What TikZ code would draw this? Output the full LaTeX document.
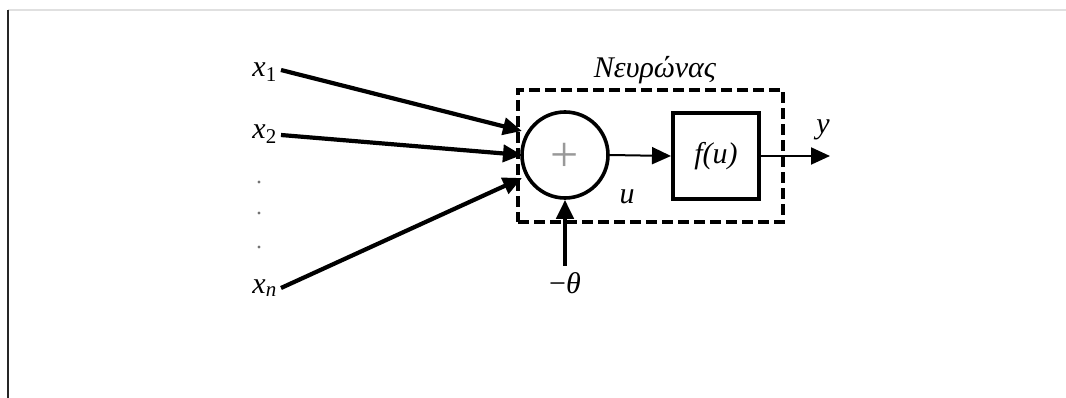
\documentclass[tikz,border=0pt]{standalone}
\usepackage{fontspec}
\setmainfont{Liberation Serif}
\usetikzlibrary{arrows.meta}
\begin{document}
\begin{tikzpicture}[x=1pt,y=-1pt,
  lbl/.style={inner sep=0pt,font=\fontsize{30}{32}\selectfont\itshape},
  inarrow/.style={line width=4.2pt,-{Triangle[length=19pt,width=17pt]}},
  thinarrow/.style={line width=2pt,-{Triangle[length=19pt,width=17pt]}},
  dotlbl/.style={circle,fill=black!55,inner sep=1.2pt}]
\useasboundingbox (0,0) rectangle (1066,398);
\draw[black!12,line width=1.5pt] (8,10) -- (1066,10);
\draw[black!85,line width=2pt] (8,10) -- (8,398);
% neuron box
\node[draw,dash pattern=on 11pt off 5pt,line width=3.8pt,minimum width=265pt,minimum height=132pt,inner sep=0pt] (neuron) at (650.5,156) {};
\node[lbl] (title) at (655,70) {Νευρώνας};
% summation
\node[draw,circle,line width=3.6pt,minimum size=86pt,inner sep=0pt] (sum) at (565,155) {};
\node[text=black!40,font=\fontsize{50}{50}\selectfont] (plus) at (565,157) {+};
% activation box
\node[draw,line width=4pt,minimum width=86pt,minimum height=86pt,inner sep=0pt] (act) at (716,156) {};
\node[lbl] (fu) at (716,156) {f(u)};
% inputs
\node[lbl,anchor=east] (x1) at (277,72) {x\textsubscript{\upshape 1}};
\node[lbl,anchor=east] (x2) at (277,134) {x\textsubscript{\upshape 2}};
\node[lbl,anchor=east] (xn) at (277,288) {x\textsubscript{n}};
\node[dotlbl] (d1) at (259,182) {};
\node[dotlbl] (d2) at (259,213) {};
\node[dotlbl] (d3) at (259,247) {};
\coordinate (s1) at (281,70);
\coordinate (s2) at (281,135);
\coordinate (sn) at (281,288);
\coordinate (e1) at (522,131);
\coordinate (e2) at (522,155);
\coordinate (en) at (522,178);
\draw[inarrow] (s1) -- (e1);
\draw[inarrow] (s2) -- (e2);
\draw[inarrow] (sn) -- (en);
% bias
\node[lbl] (theta) at (565,283) {\upshape −\itshape θ};
\coordinate (b0) at (565,266);
\draw[inarrow] (b0) -- (sum.south);
% internal and output
\draw[thinarrow] (sum.east) -- (act.west);
\node[lbl] (u) at (627,197) {u};
\coordinate (out) at (830,156);
\draw[thinarrow] (act.east) -- (out);
\node[lbl] (y) at (823,130) {y};
\end{tikzpicture}
\end{document}
